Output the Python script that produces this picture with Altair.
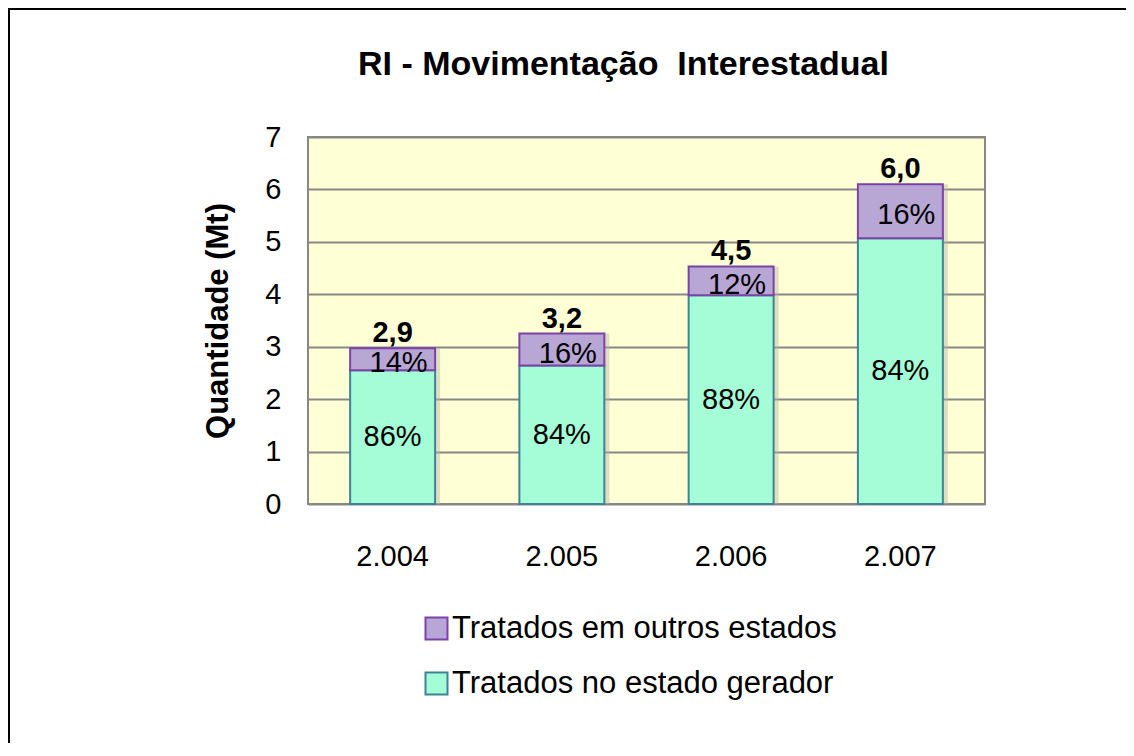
import altair as alt
import pandas as pd

# ---- data ----
anos = ["2.004", "2.005", "2.006", "2.007"]
series = ["Tratados em outros estados", "Tratados no estado gerador"]
gerador = [2.55, 2.64, 3.98, 5.07]          # teal (bottom)
outros = [0.42, 0.61, 0.55, 1.03]           # purple (top)
pct_gerador = ["86%", "84%", "88%", "84%"]
pct_outros = ["14%", "16%", "12%", "16%"]
totais = ["2,9", "3,2", "4,5", "6,0"]
y_ticks = [0, 1, 2, 3, 4, 5, 6, 7]

FONT = "Liberation Sans"
fill_range = ["#B8A6D4", "#A4FDD6"]
stroke_range = ["#7B42A8", "#3E8494"]

rows = []
for i, a in enumerate(anos):
    rows.append({"ano": a, "serie": series[1], "valor": gerador[i], "ordem": 0,
                 "ini": 0.0, "fim": gerador[i], "pct": pct_gerador[i]})
    rows.append({"ano": a, "serie": series[0], "valor": outros[i], "ordem": 1,
                 "ini": gerador[i], "fim": gerador[i] + outros[i], "pct": pct_outros[i]})
df = pd.DataFrame(rows)
df["meio"] = (df["ini"] + df["fim"]) / 2

tot_df = pd.DataFrame({"ano": anos,
                       "total": [g + o for g, o in zip(gerador, outros)],
                       "rotulo": totais})

x_axis = alt.Axis(labelAngle=0, labelAlign="center", ticks=False, domain=False,
                  labelPadding=38, labelFontSize=29, labelFont=FONT,
                  labelColor="black", grid=False)
x_scale = alt.Scale(paddingInner=0.498, paddingOuter=0.249)


def xe():
    return alt.X("ano:N", sort=anos, title=None, scale=x_scale, axis=x_axis)


y_scale = alt.Scale(domain=[0, 7], nice=False)
y_axis = alt.Axis(values=y_ticks, format="d", title="Quantidade (Mt)", grid=True,
                  gridColor="#878787", gridWidth=2, ticks=False, domain=False,
                  labelPadding=27, labelFontSize=29, labelFont=FONT,
                  labelColor="black", titleFont=FONT, titleFontSize=31,
                  titleFontWeight="bold", titleColor="black", titleAngle=-90,
                  titleX=-90, titleY=183.5, titleAlign="center",
                  titleBaseline="middle")

leg = dict(title=None, orient="none", legendX=113, legendY=476, symbolType="square",
           symbolSize=484, symbolStrokeWidth=2, labelFontSize=31, labelFont=FONT,
           labelColor="black", labelOffset=0, rowPadding=23, padding=0, labelLimit=700)

shadow = alt.Chart(tot_df).mark_bar(color="#B9B9A6", opacity=0.45, xOffset=5).encode(
    x=xe(), y=alt.Y("total:Q", scale=y_scale, axis=y_axis), y2=alt.value(370))

bars = alt.Chart(df).mark_bar(strokeWidth=2).encode(
    x=xe(),
    y=alt.Y("valor:Q", stack="zero", scale=y_scale, axis=y_axis),
    color=alt.Color("serie:N", scale=alt.Scale(domain=series, range=fill_range),
                    legend=alt.Legend(**leg)),
    stroke=alt.Stroke("serie:N", scale=alt.Scale(domain=series, range=stroke_range),
                      legend=alt.Legend(**leg)),
    order=alt.Order("ordem:Q"),
)

txt_ger = alt.Chart(df[df["ordem"] == 0]).mark_text(
    font=FONT, fontSize=29, color="black", baseline="middle").encode(
    x=xe(), y=alt.Y("meio:Q", scale=y_scale, axis=y_axis), text="pct:N")

txt_out = alt.Chart(df[df["ordem"] == 1]).mark_text(
    font=FONT, fontSize=29, color="black", baseline="middle", dx=6, dy=4).encode(
    x=xe(), y=alt.Y("meio:Q", scale=y_scale, axis=y_axis), text="pct:N")

txt_tot = alt.Chart(tot_df).mark_text(
    font=FONT, fontSize=29, fontWeight="bold", color="black",
    baseline="alphabetic", dy=-6).encode(
    x=xe(), y=alt.Y("total:Q", scale=y_scale, axis=y_axis), text="rotulo:N")

border = alt.Chart(pd.DataFrame({"k": [0]})).mark_rect(
    fillOpacity=0, stroke="black", strokeWidth=2).encode(
    x=alt.value(-299), x2=alt.value(900), y=alt.value(-128), y2=alt.value(700))

chart = alt.layer(shadow, bars, txt_ger, txt_out, txt_tot, border).properties(
    width=677, height=367,
    view=alt.ViewBackground(fill="#FFFFD6", stroke="#878787", strokeWidth=2),
    title=alt.TitleParams("RI - Movimentação \u00a0Interestadual", font=FONT,
                          fontSize=34, fontWeight="bold", color="black",
                          anchor="middle", dx=-23, offset=40, dy=114),
    autosize=alt.AutoSizeParams(type="none"),
    padding={"left": 300, "top": 129, "right": 141, "bottom": 239},
).configure_view(fill="#FFFFD6", stroke="#878787", strokeWidth=2
).configure(background="white")

chart.save("out.html", embed_options={"renderer": "svg", "actions": False})
